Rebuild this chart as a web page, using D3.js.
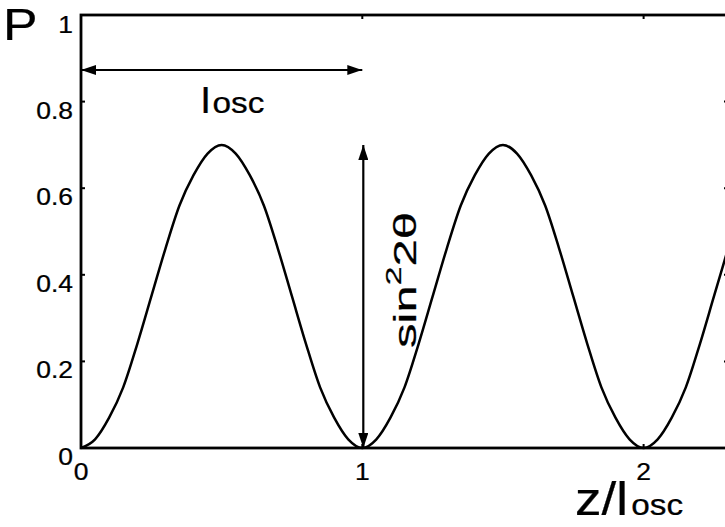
<!DOCTYPE html>
<html><head><meta charset="utf-8">
<script src="https://cdn.jsdelivr.net/npm/d3@7"></script>
<style>html,body{margin:0;padding:0;background:#fff;overflow:hidden}text{font-family:"Liberation Sans",Arial,sans-serif;fill:#000;stroke:#000;stroke-width:0.25px}</style>
</head><body><svg id="c" width="725" height="527"></svg>
<script>
const zValues = [0,0.05,0.1,0.15,0.2,0.25,0.3,0.35,0.4,0.45,0.5,0.55,0.6,0.65,0.7,0.75,0.8,0.85,0.9,0.95,
  1,1.05,1.1,1.15,1.2,1.25,1.3,1.35,1.4,1.45,1.5,1.55,1.6,1.65,1.7,1.75,1.8,1.85,1.9,1.95,
  2,2.05,2.1,2.15,2.2,2.25,2.3];
const pValues = [0,0.02,0.07,0.14,0.24,0.35,0.46,0.56,0.63,0.68,0.70,0.68,0.63,0.56,0.46,0.35,0.24,0.14,0.07,0.02,
  0,0.02,0.07,0.14,0.24,0.35,0.46,0.56,0.63,0.68,0.70,0.68,0.63,0.56,0.46,0.35,0.24,0.14,0.07,0.02,
  0,0.02,0.07,0.14,0.24,0.35,0.46];
const xTicks = [0,1,2];
const xTickLabels = ["0","1","2"];
const yTicks = [0,0.2,0.4,0.6,0.8,1];
const yTickLabels = ["0","0.2","0.4","0.6","0.8","1"];
const amplitude = 0.7;   // sin^2 2θ
const oscLength = 1;     // l_osc

const svg = d3.select("#c");
const x = d3.scaleLinear().domain([0, 2.3]).range([81, 728]);
const y = d3.scaleLinear().domain([0, 1]).range([448, 15]);
const SX = 1.15;

// frame
svg.append("rect").attr("x", x(0)).attr("y", y(1)).attr("width", x(2.3)-x(0)).attr("height", y(0)-y(1))
  .attr("fill","none").attr("stroke","#000").attr("stroke-width",2.8);

// ticks (inward)
const tl = 4;
xTicks.forEach(t=>{
  svg.append("line").attr("x1",x(t)).attr("x2",x(t)).attr("y1",y(0)).attr("y2",y(0)-tl).attr("stroke","#000").attr("stroke-width",2);
  svg.append("line").attr("x1",x(t)).attr("x2",x(t)).attr("y1",y(1)).attr("y2",y(1)+tl).attr("stroke","#000").attr("stroke-width",2);
});
yTicks.forEach(t=>{
  svg.append("line").attr("x1",x(0)).attr("x2",x(0)+tl).attr("y1",y(t)).attr("y2",y(t)).attr("stroke","#000").attr("stroke-width",2);
  svg.append("line").attr("x1",x(2.3)).attr("x2",x(2.3)-tl).attr("y1",y(t)).attr("y2",y(t)).attr("stroke","#000").attr("stroke-width",2);
});

function stext(px, py, str, size, anchor){
  return svg.append("text").attr("transform",`translate(${px},${py}) scale(${SX},1)`)
    .attr("text-anchor",anchor||"start").attr("font-size",size).text(str);
}
xTicks.forEach((t,i)=> stext(x(t), 480, xTickLabels[i], 23, "middle"));
yTicks.forEach((t,i)=> stext(73, y(t)+ (t===1?18:17), yTickLabels[i], 23, "end"));

// curve
const line = d3.line().x((d,i)=>x(zValues[i])).y(d=>y(d)).curve(d3.curveMonotoneX);
svg.append("path").datum(pValues).attr("d",line).attr("fill","none").attr("stroke","#000").attr("stroke-width",2.5).attr("stroke-linejoin","round");

// arrowheads
const defs = svg.append("defs");
defs.append("marker").attr("id","ah").attr("viewBox","0 0 15 10").attr("refX",15).attr("refY",5)
  .attr("markerWidth",15).attr("markerHeight",10).attr("markerUnits","userSpaceOnUse").attr("orient","auto-start-reverse")
  .append("path").attr("d","M0,0L15,5L0,10Z").attr("fill","#000");

svg.append("line").attr("x1",x(0)).attr("x2",x(oscLength)).attr("y1",70).attr("y2",70)
  .attr("stroke","#000").attr("stroke-width",2.2).attr("marker-start","url(#ah)").attr("marker-end","url(#ah)");
svg.append("line").attr("x1",x(oscLength)+1).attr("x2",x(oscLength)+1).attr("y1",y(0)).attr("y2",y(amplitude))
  .attr("stroke","#000").attr("stroke-width",2.2).attr("marker-start","url(#ah)").attr("marker-end","url(#ah)");

// labels
stext(3, 40, "P", 45);
const zl = svg.append("text").attr("transform",`translate(575,515) scale(${SX},1)`);
zl.append("tspan").attr("font-size",46).text("z/l");
zl.append("tspan").attr("font-size",29).attr("dx",3).text("osc");

const lo = svg.append("text").attr("transform",`translate(201,113) scale(${SX},1)`);
lo.append("tspan").attr("font-size",36).text("l");
lo.append("tspan").attr("font-size",29).attr("dx",2).text("osc");

// rotated sin^2 2θ
const sg = svg.append("g");
const st = sg.append("text").attr("font-size",32);
st.append("tspan").text("sin");
st.append("tspan").attr("font-size",22).attr("dy",-15).text("2");
st.append("tspan").attr("dy",15).text("2θ");
const len = st.node().getComputedTextLength();
const target = 136;
sg.attr("transform",`translate(416,348) rotate(-90) scale(${target/len},1)`);
</script></body></html>
